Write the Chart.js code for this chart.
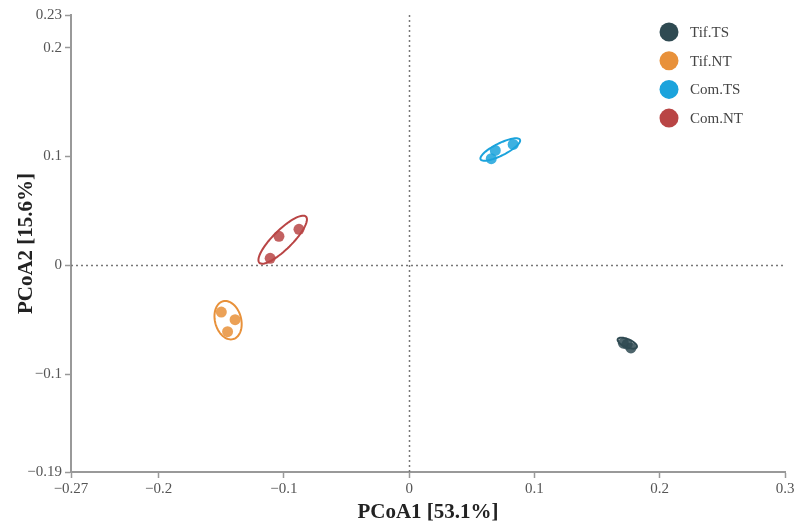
<!DOCTYPE html>
<html>
<head>
<meta charset="utf-8">
<script src="https://cdn.jsdelivr.net/npm/chart.js@4/dist/chart.umd.min.js"></script>
<style>
  html, body { margin: 0; padding: 0; background: #fff; }
  #wrap { width: 806px; height: 528px; }
</style>
</head>
<body>
<div id="wrap"><canvas id="myChart" width="806" height="528"></canvas></div>
<script>
// groups
const groups = ["Tif.TS", "Tif.NT", "Com.TS", "Com.NT"];
const colors = ["#2f4a52", "#e8913a", "#1ba3dc", "#b94545"];

// sample coordinates (PCoA1, PCoA2)
const tifTS = [[0.171, -0.0716], [0.174, -0.0725], [0.177, -0.076]];
const tifNT = [[-0.150, -0.043], [-0.139, -0.050], [-0.145, -0.061]];
const comTS = [[0.0655, 0.098], [0.0687, 0.1055], [0.083, 0.111]];
const comNT = [[-0.111, 0.0064], [-0.104, 0.0266], [-0.088, 0.033]];

// group ellipses: centre, semi axis vectors (data units)
const ellCentre = [[0.1741, -0.0716], [-0.1446, -0.0505], [0.0727, 0.1064], [-0.1010, 0.0235]];
const ellAxisA = [[0.0076, -0.0037], [-0.0040, 0.0174], [0.0157, 0.0090], [0.0186, 0.0212]];
const ellAxisB = [[-0.0013, -0.0034], [0.0101, 0.0030], [0.0022, -0.0050], [0.0054, -0.0062]];

// tick labels
const xTicks = [-0.27, -0.2, -0.1, 0, 0.1, 0.2, 0.3];
const yTicks = [-0.19, -0.1, 0, 0.1, 0.2, 0.23];

const serif = "'Liberation Serif', 'Times New Roman', serif";
const pointSets = [tifTS, tifNT, comTS, comNT];

function fmt(v) {
    return String(v).replace('-', '\u2212');
}

// dotted zero lines, ellipses and the legend
const extras = {
    id: 'extras',
    beforeDatasetsDraw(chart) {
        const ctx = chart.ctx;
        const xs = chart.scales.x, ys = chart.scales.y;
        const a = chart.chartArea;
        ctx.save();
        ctx.strokeStyle = '#777';
        ctx.lineWidth = 1.5;
        ctx.setLineDash([2, 3]);
        const x0 = Math.round(xs.getPixelForValue(0)) + 0.5;
        const y0 = Math.round(ys.getPixelForValue(0)) + 0.5;
        ctx.beginPath();
        ctx.moveTo(x0, a.top); ctx.lineTo(x0, a.bottom);
        ctx.moveTo(a.left, y0); ctx.lineTo(a.right, y0);
        ctx.stroke();
        ctx.setLineDash([]);
        ellCentre.forEach((c, i) => {
            ctx.beginPath();
            for (let k = 0; k <= 72; k++) {
                const t = k / 72 * Math.PI * 2;
                const dx = c[0] + ellAxisA[i][0] * Math.cos(t) + ellAxisB[i][0] * Math.sin(t);
                const dy = c[1] + ellAxisA[i][1] * Math.cos(t) + ellAxisB[i][1] * Math.sin(t);
                const px = xs.getPixelForValue(dx), py = ys.getPixelForValue(dy);
                if (k === 0) ctx.moveTo(px, py); else ctx.lineTo(px, py);
            }
            ctx.closePath();
            ctx.strokeStyle = colors[i];
            ctx.lineWidth = 2;
            ctx.stroke();
        });
        ctx.restore();
    },
    afterDraw(chart) {
        const ctx = chart.ctx;
        ctx.save();
        ctx.font = '15px ' + serif;
        ctx.textBaseline = 'middle';
        chart.data.datasets.forEach((ds, i) => {
            const y = 32 + i * 28.7;
            ctx.beginPath();
            ctx.arc(669, y, 9.5, 0, Math.PI * 2);
            ctx.fillStyle = colors[i];
            ctx.fill();
            ctx.fillStyle = '#444';
            ctx.fillText(ds.label, 690, y + 1);
        });
        ctx.restore();
    }
};

new Chart(document.getElementById('myChart'), {
    type: 'scatter',
    data: {
        datasets: groups.map((g, i) => ({
            label: g,
            data: pointSets[i].map(p => ({x: p[0], y: p[1]})),
            backgroundColor: colors[i] + 'd9',
            borderWidth: 0,
            pointRadius: 5.5,
            pointHoverRadius: 5.5
        }))
    },
    options: {
        responsive: false,
        animation: false,
        layout: { padding: { top: 15, right: 21, left: 0, bottom: 0 } },
        plugins: { legend: { display: false }, tooltip: { enabled: false } },
        scales: {
            x: {
                type: 'linear', min: -0.27, max: 0.3,
                afterBuildTicks: s => { s.ticks = xTicks.map(v => ({value: v})); },
                afterFit: s => { s.height = 56; },
                ticks: { callback: v => fmt(v), font: { family: serif, size: 15 }, color: '#555', padding: 2, maxRotation: 0, autoSkip: false },
                grid: { drawOnChartArea: false, tickLength: 6, tickColor: '#999', tickWidth: 1.5 },
                border: { color: '#999', width: 2 },
                title: { display: true, text: 'PCoA1 [53.1%]', font: { family: serif, size: 21, weight: 'bold' }, color: '#222', padding: { top: 0, bottom: 3 } }
            },
            y: {
                type: 'linear', min: -0.19, max: 0.23,
                afterBuildTicks: s => { s.ticks = yTicks.map(v => ({value: v})); },
                afterFit: s => { s.width = 71; },
                ticks: { callback: v => fmt(v), font: { family: serif, size: 15 }, color: '#555', padding: 3, autoSkip: false },
                grid: { drawOnChartArea: false, tickLength: 6, tickColor: '#999', tickWidth: 1.5 },
                border: { color: '#999', width: 2 },
                title: { display: true, text: 'PCoA2 [15.6%]', font: { family: serif, size: 21, weight: 'bold' }, color: '#222', padding: { top: 14, bottom: 0 } }
            }
        }
    },
    plugins: [extras]
});
</script>
</body>
</html>
